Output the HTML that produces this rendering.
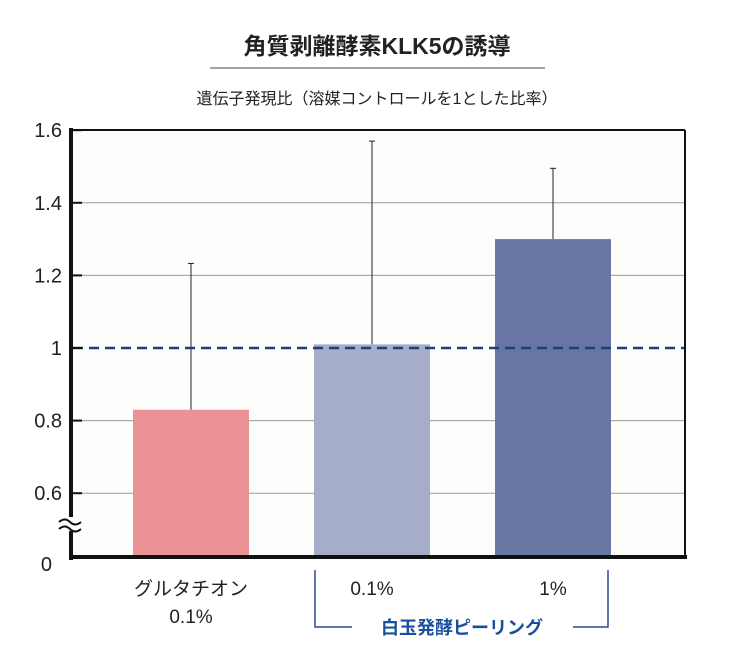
<!DOCTYPE html>
<html><head><meta charset="utf-8"><style>
body{margin:0;background:#fff;width:750px;height:650px;overflow:hidden;font-family:"Liberation Sans","Noto Sans CJK JP",sans-serif}
</style></head><body>
<svg width="750" height="650" xmlns="http://www.w3.org/2000/svg" font-family="Liberation Sans, Noto Sans CJK JP, sans-serif">
<text x="377" y="54" text-anchor="middle" font-size="23" font-weight="bold" fill="#222">角質剥離酵素KLK5の誘導</text>
<line x1="210" y1="68" x2="545" y2="68" stroke="#444" stroke-width="1"/>
<text x="377" y="104" text-anchor="middle" font-size="16" fill="#222">遺伝子発現比（溶媒コントロールを1とした比率）</text>
<rect x="71" y="130" width="614" height="426" fill="#fdfdfb"/>
<g id="grid"></g>
<g id="bars"></g>
<line x1="71" y1="130" x2="685" y2="130" stroke="#111" stroke-width="2"/>
<line x1="685" y1="130" x2="685" y2="557" stroke="#111" stroke-width="2"/>
<line x1="71" y1="128" x2="71" y2="560" stroke="#111" stroke-width="4"/>
<line x1="69" y1="557" x2="687" y2="557" stroke="#111" stroke-width="4"/>
<g id="ticks"></g>
<rect x="60" y="517" width="22" height="14" fill="#fff"/>
<path d="M59 522 q6 -5 11 0 t11 0 M59 529 q6 -5 11 0 t11 0" stroke="#111" stroke-width="2" fill="none"/>
<text x="52" y="571" text-anchor="end" font-size="20" fill="#222">0</text>
<text x="191" y="595" text-anchor="middle" font-size="19" fill="#222">グルタチオン</text>
<text x="191" y="623" text-anchor="middle" font-size="19" fill="#222">0.1%</text>
<text x="372" y="595" text-anchor="middle" font-size="19" fill="#222">0.1%</text>
<text x="553" y="595" text-anchor="middle" font-size="19" fill="#222">1%</text>
<path d="M315 570 V627 H352 M573 627 H608 V570" stroke="#2a4a8c" stroke-width="1.5" fill="none"/>
<text x="462" y="634" text-anchor="middle" font-size="18" font-weight="bold" fill="#1a4fa0">白玉発酵ピーリング</text>
</svg>
<script>
const categories=["グルタチオン0.1%","白玉0.1%","白玉1%"];
const values=[0.83,1.01,1.30];
const errTop=[1.233,1.57,1.495];
const tickValues=[0.6,0.8,1.0,1.2,1.4,1.6];
const tickLabels=["0.6","0.8","1","1.2","1.4","1.6"];
const colors=["#ea9296","#a6adc8","#6876a4"];
const NS="http://www.w3.org/2000/svg";
function y(v){return 348-(v-1)*363;}
const centers=[191,372,553],bw=116;
function mk(t,a,p){const e=document.createElementNS(NS,t);for(const k in a)e.setAttribute(k,a[k]);p.appendChild(e);return e;}
const grid=document.getElementById('grid'),ticks=document.getElementById('ticks'),bars=document.getElementById('bars');
tickValues.forEach((v,i)=>{
 if(v!==1&&v!==1.6){const l=mk('line',{x1:71,x2:685,y1:y(v),y2:y(v),stroke:'#999','stroke-width':1},grid);
 
 }
 const tk=mk('line',{x1:71,x2:82,y1:y(v),y2:y(v),stroke:'#111','stroke-width':2},ticks);
 
 
 const t=mk('text',{x:62,y:y(v)+7,'text-anchor':'end','font-size':20,fill:'#222'},ticks);t.textContent=tickLabels[i];
 
 
});
values.forEach((v,i)=>{
 const cx=centers[i];
 const eb=mk('line',{x1:cx,x2:cx,y1:y(errTop[i]),y2:y(v),stroke:'#222','stroke-width':1},bars);
 
 
 const cap=mk('line',{x1:cx-3,x2:cx+3,y1:y(errTop[i]),y2:y(errTop[i]),stroke:'#222','stroke-width':1},bars);
 
 
 const r=mk('rect',{x:cx-bw/2,y:y(v),width:bw,height:556-y(v),fill:colors[i]},bars);
 
 
});
const ref=mk('line',{x1:73,x2:685,y1:y(1),y2:y(1),stroke:'#1d3f7a','stroke-width':2.5,'stroke-dasharray':'10 6'},bars);


</script>
</body></html>
